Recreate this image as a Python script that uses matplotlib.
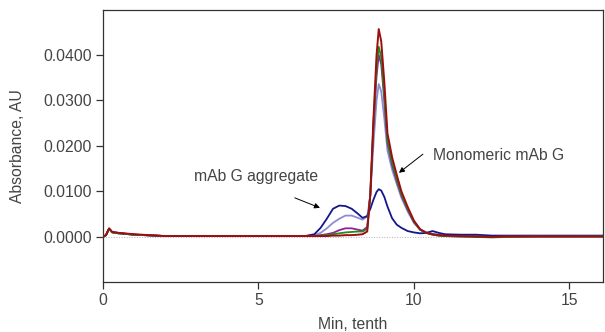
import matplotlib
matplotlib.use('Agg')
import matplotlib.pyplot as plt

plt.rcParams['font.family'] = ['Liberation Sans', 'DejaVu Sans']

# retention time grid (min, tenth)
t = [0, 0.1, 0.2, 0.3, 0.5, 1.0, 2, 3, 4, 5, 6, 6.5, 6.8, 7.0, 7.2, 7.4, 7.6, 7.8,
     8.0, 8.2, 8.35, 8.5, 8.6, 8.7, 8.8, 8.87, 8.95, 9.05, 9.15, 9.3, 9.45, 9.6,
     9.8, 10.0, 10.2, 10.4, 10.6, 10.8, 11.0, 11.5, 12.0, 12.5, 13, 14, 15, 16.1]

navy = [0, 0.0004, 0.0018, 0.0011, 0.0009, 0.0005, 0.0002, 0.0002, 0.0002, 0.0002, 0.0002,
        0.0002, 0.0006, 0.0020, 0.0040, 0.0062, 0.0069, 0.0068, 0.0062, 0.0051, 0.0042,
        0.0046, 0.0062, 0.0082, 0.0099, 0.0105, 0.0102, 0.0088, 0.0067, 0.0041, 0.0027,
        0.0020, 0.0013, 0.0010, 0.0008, 0.0009, 0.0013, 0.0009, 0.0006, 0.0005, 0.0005,
        0.0003, 0.0003, 0.0003, 0.0003, 0.0003]

lavender = [0, 0.0004, 0.0018, 0.0010, 0.0008, 0.0005, 0.0002, 0.0002, 0.0002, 0.0002, 0.0002,
            0.0002, 0.0004, 0.0009, 0.0019, 0.0031, 0.0040, 0.0047, 0.0047, 0.0042, 0.0038,
            0.0045, 0.0090, 0.0205, 0.0300, 0.0336, 0.0320, 0.0260, 0.0190, 0.0148, 0.0116,
            0.0086, 0.0056, 0.0031, 0.0016, 0.0010, 0.0007, 0.0005, 0.0004, 0.0003, 0.0002,
            0.0002, 0.0002, 0.0002, 0.0002, 0.0002]

purple = [0, 0.0004, 0.0018, 0.0010, 0.0008, 0.0005, 0.0002, 0.0002, 0.0002, 0.0002, 0.0002,
          0.0002, 0.0002, 0.0004, 0.0006, 0.0009, 0.0015, 0.0019, 0.0019, 0.0016, 0.0014,
          0.0022, 0.0095, 0.0240, 0.0355, 0.0400, 0.0380, 0.0300, 0.0207, 0.0158, 0.0123,
          0.0091, 0.0060, 0.0033, 0.0016, 0.0009, 0.0005, 0.0003, 0.0002, 0.0001, 0.0001,
          0.0000, 0.0001, 0.0001, 0.0001, 0.0001]

green = [0, 0.0004, 0.0018, 0.0010, 0.0008, 0.0005, 0.0002, 0.0002, 0.0002, 0.0002, 0.0002,
         0.0002, 0.0002, 0.0003, 0.0004, 0.0006, 0.0008, 0.0010, 0.0011, 0.0012, 0.0012,
         0.0018, 0.0095, 0.0250, 0.0370, 0.0418, 0.0395, 0.0310, 0.0212, 0.0163, 0.0127,
         0.0094, 0.0062, 0.0034, 0.0016, 0.0009, 0.0005, 0.0003, 0.0002, 0.0001, 0.0000,
         -0.0001, 0.0000, 0.0001, 0.0001, 0.0001]

red = [0, 0.0004, 0.0019, 0.0011, 0.0009, 0.0006, 0.0002, 0.0002, 0.0002, 0.0002, 0.0002,
       0.0002, 0.0002, 0.0002, 0.0002, 0.0003, 0.0003, 0.0004, 0.0004, 0.0005, 0.0006,
       0.0012, 0.0095, 0.0260, 0.0400, 0.0457, 0.0430, 0.0340, 0.0228, 0.0175, 0.0136,
       0.0100, 0.0066, 0.0036, 0.0017, 0.0009, 0.0006, 0.0004, 0.0003, 0.0002, 0.0001,
       0.0000, 0.0001, 0.0001, 0.0001, 0.0001]

yticks = [0.0, 0.01, 0.02, 0.03, 0.04]
xticks = [0, 5, 10, 15]

fig = plt.figure(figsize=(6.05, 3.32), dpi=100)
ax = fig.add_axes([0.170, 0.1506, 0.8267, 0.8194])

ax.axhline(0, color='#b0b0b0', lw=0.7, ls=':', zorder=1)

ax.plot(t, navy, color='#14168a', lw=1.3, zorder=3)
ax.plot(t, lavender, color='#8c8cd2', lw=1.3, zorder=2)
ax.plot(t, purple, color='#961e96', lw=1.3, zorder=4)
ax.plot(t, green, color='#1e8c1e', lw=1.3, zorder=4)
ax.plot(t, red, color='#9e0e0e', lw=1.4, zorder=5)

ax.set_xlim(0, 16.08)
ax.set_ylim(-0.0099, 0.0499)
ax.set_xticks(xticks)
ax.set_yticks(yticks)
ax.set_yticklabels(['%.4f' % v for v in yticks])

for s in ax.spines.values():
    s.set_color('#333333')
    s.set_linewidth(0.9)
ax.tick_params(direction='out', length=5, width=0.9, color='#333333',
               labelsize=11.3, labelcolor='#444444', pad=3)

ax.set_xlabel('Min, tenth', fontsize=11.3, color='#444444')
ax.set_ylabel('Absorbance, AU', fontsize=11.3, color='#444444')
ax.xaxis.set_label_coords(0.5, -0.128)
ax.yaxis.set_label_coords(-0.155, 0.5)

ax.annotate('', xy=(6.98, 0.0064), xytext=(6.17, 0.0086),
            arrowprops=dict(arrowstyle='-|>', color='black', lw=0.7,
                            mutation_scale=8, shrinkA=0, shrinkB=0))
ax.text(2.93, 0.0134, 'mAb G aggregate', fontsize=11.3, color='#444444', va='center')

ax.annotate('', xy=(9.52, 0.0141), xytext=(10.29, 0.0182),
            arrowprops=dict(arrowstyle='-|>', color='black', lw=0.7,
                            mutation_scale=8, shrinkA=0, shrinkB=0))
ax.text(10.61, 0.0180, 'Monomeric mAb G', fontsize=11.3, color='#444444', va='center')

fig.savefig('out.png', dpi=100)
